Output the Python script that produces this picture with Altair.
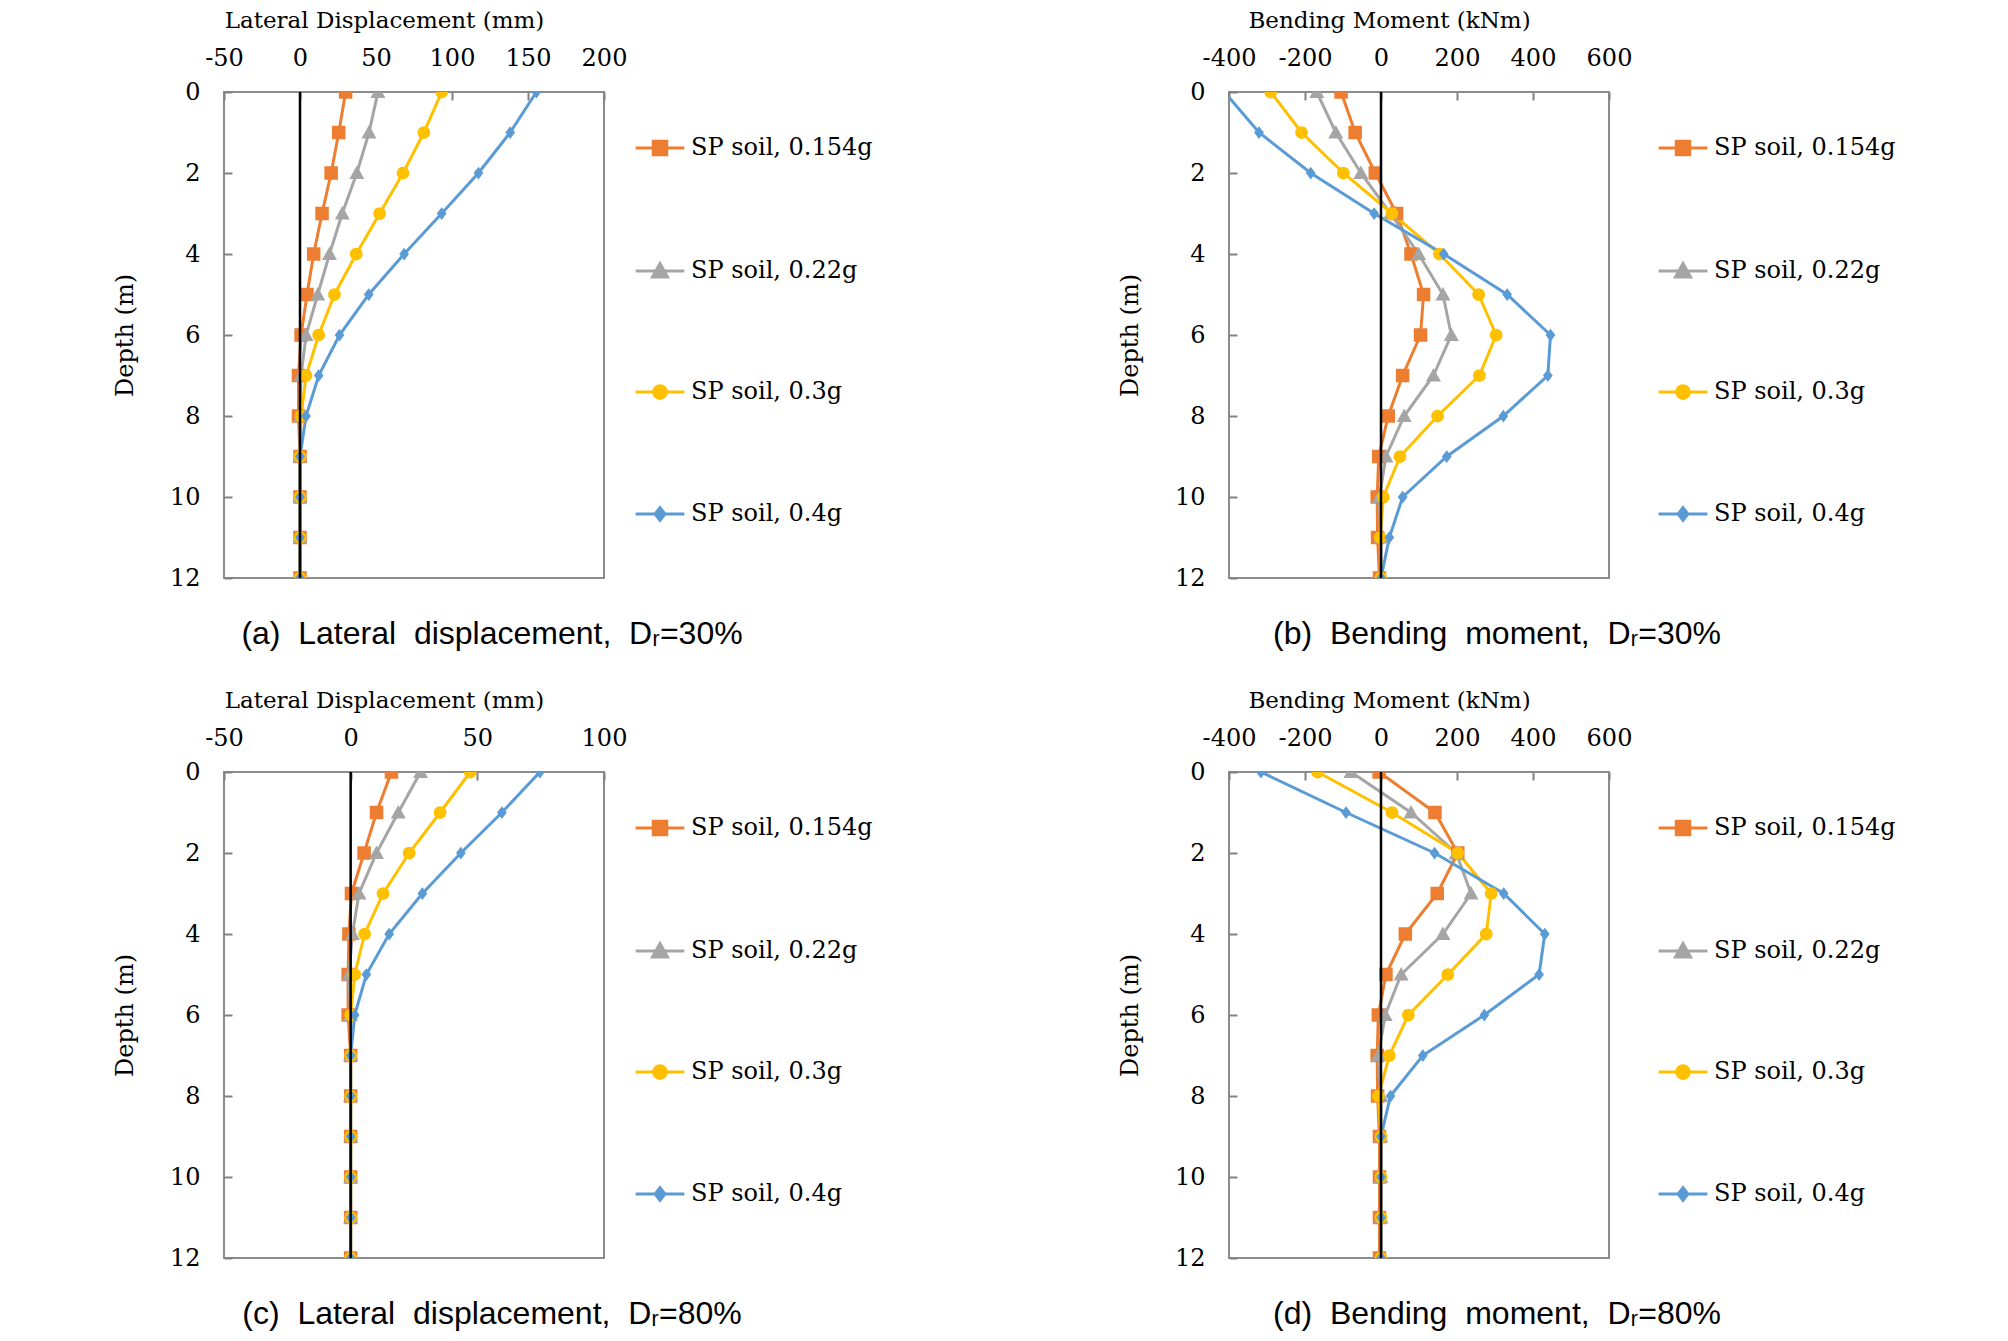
import altair as alt
import pandas as pd

depth = list(range(13))
series_names = ["SP soil, 0.154g", "SP soil, 0.22g", "SP soil, 0.3g", "SP soil, 0.4g"]
colors = ["#ED7D31", "#A5A5A5", "#FFC000", "#5B9BD5"]

# (a) Lateral displacement, Dr=30%
a_0154 = [30, 25.5, 20.5, 14.5, 9, 4.6, 0.7, -1, -1, 0, 0, 0, 0]
a_022 = [51.3, 45.4, 37.4, 27.8, 19.4, 11.7, 4, 0.7, 0, 0, 0, 0, 0]
a_03 = [93.2, 81.5, 67.8, 52.4, 37, 22.7, 12.3, 4, 0.7, 0, 0, 0, 0]
a_04 = [155.5, 138.3, 117.4, 93.2, 68.5, 45.2, 26, 12.3, 4, 0, 0, 0, 0]

# (b) Bending moment, Dr=30%
b_0154 = [-105, -68, -15, 41, 79, 112, 104, 57, 19, -6, -10, -9, -4]
b_022 = [-169, -119, -53, 25, 99, 163, 185, 138, 61, 13, -4, 0, 0]
b_03 = [-290, -209, -99, 29, 154, 257, 303, 259, 149, 50, 6, -2, 0]
b_04 = [-412, -321, -185, -18, 165, 332, 446, 439, 322, 173, 57, 22, 0]

# (c) Lateral displacement, Dr=80%
c_0154 = [16.1, 10.2, 5.3, 0.3, -0.7, -1, -1, 0, 0, 0, 0, 0, 0]
c_022 = [27.6, 18.8, 10.2, 3.3, 0.7, -0.7, 0, 0, 0, 0, 0, 0, 0]
c_03 = [47.2, 35.3, 23.1, 12.8, 5.5, 1.6, 0, 0, 0, 0, 0, 0, 0]
c_04 = [74.7, 59.7, 43.5, 28.3, 15.2, 6.2, 1.6, 0, 0, 0, 0, 0, 0]

# (d) Bending moment, Dr=80%
d_0154 = [-5, 142, 202, 148, 64, 13, -7, -10, -9, -4, -4, -4, -4]
d_022 = [-79, 79, 198, 237, 163, 53, 11, -7, 0, 0, 0, 0, 0]
d_03 = [-167, 29, 202, 290, 277, 176, 72, 22, -7, 0, 0, 0, 0]
d_04 = [-316, -92, 141, 323, 431, 416, 272, 110, 25, 0, 0, 0, 0]

disp_ticks_30 = [-50, 0, 50, 100, 150, 200]
disp_ticks_80 = [-50, 0, 50, 100]
moment_ticks = [-400, -200, 0, 200, 400, 600]
depth_ticks = [0, 2, 4, 6, 8, 10, 12]

# marker shapes (the horizontal segment only shows in the legend, where symbols are stroked)
shape_paths = [
    "M-3.25,0H3.25M-0.9,-0.9H0.9V0.9H-0.9Z",
    "M-3.25,0H3.25M0,-1L1,0.8H-1Z",
    "M-3.25,0H3.25M0.85,0A0.85,0.85,0,1,1,-0.85,0A0.85,0.85,0,1,1,0.85,0Z",
    "M-3.25,0H3.25M0,-0.85L0.65,0L0,0.85L-0.65,0Z",
]

SERIF = "DejaVu Serif"
W, H = 380, 486
NB = "\u00a0"


def make_panel(values_list, xdom, xvals, xtitle, caption, legend_x):
    rows = []
    for name, vals in zip(series_names, values_list):
        for d, v in zip(depth, vals):
            rows.append({"series": name, "depth": d, "value": v})
    df = pd.DataFrame(rows)

    xscale = alt.Scale(domain=xdom, nice=False, zero=False)
    yscale = alt.Scale(domain=[0, 12], reverse=True, nice=False, zero=False)

    leg = alt.Legend(
        title=None, orient="none", legendX=legend_x, legendY=44, padding=0,
        labelFont=SERIF, labelFontSize=24, labelColor="black", labelOffset=19,
        symbolSize=225, symbolStrokeWidth=3, rowPadding=96, labelLimit=400,
    )

    label_axis_x = alt.Axis(
        orient="top", values=xvals, title=xtitle, ticks=False, domain=False, grid=False,
        labelPadding=22, titlePadding=14, titleX=160, labelFont=SERIF, labelFontSize=24,
        titleFont=SERIF, titleFontSize=23, titleFontWeight="normal",
        labelColor="black", titleColor="black", labelFlush=False,
        labelExpr="datum.value < 0 ? '-' + abs(datum.value) : '' + datum.value",
    )
    label_axis_y = alt.Axis(
        orient="left", values=depth_ticks, title="Depth (m)", ticks=False, domain=False, grid=False,
        labelPadding=24, titlePadding=32, labelFont=SERIF, labelFontSize=24,
        titleFont=SERIF, titleFontSize=24, titleFontWeight="normal",
        labelColor="black", titleColor="black", labelFlush=False,
    )
    tick_axis_x = alt.Axis(
        orient="top", values=xvals, title=None, labels=False, domain=False, grid=False,
        ticks=True, tickSize=8, offset=-8, tickColor="#808080", tickWidth=2,
    )
    tick_axis_y = alt.Axis(
        orient="left", values=depth_ticks, title=None, labels=False, domain=False, grid=False,
        ticks=True, tickSize=8, offset=-8, tickColor="#808080", tickWidth=2,
    )

    base = alt.Chart(df)
    lines = base.mark_line(strokeWidth=3, clip=True).encode(
        x=alt.X("value:Q", scale=xscale, axis=label_axis_x),
        y=alt.Y("depth:Q", scale=yscale, axis=label_axis_y),
        stroke=alt.Stroke("series:N", scale=alt.Scale(domain=series_names, range=colors), legend=leg),
        order=alt.Order("depth:Q"),
    )
    points = base.mark_point(filled=True, size=225, opacity=1, clip=True).encode(
        x=alt.X("value:Q", scale=xscale, axis=tick_axis_x),
        y=alt.Y("depth:Q", scale=yscale, axis=tick_axis_y),
        fill=alt.Fill("series:N", scale=alt.Scale(domain=series_names, range=colors), legend=leg),
        shape=alt.Shape("series:N", scale=alt.Scale(domain=series_names, range=shape_paths), legend=leg),
    )
    zero = alt.Chart(pd.DataFrame({"value": [0]})).mark_rule(color="black", strokeWidth=2.5).encode(
        x=alt.X("value:Q", scale=xscale, axis=None)
    )
    return (
        alt.layer(lines, points, zero)
        .resolve_axis(x="independent", y="independent")
        .properties(
            width=W, height=H,
            title=alt.TitleParams(
                caption, orient="bottom", font="Liberation Sans", fontSize=32,
                fontWeight="normal", color="black", offset=29, anchor="middle",
                frame="group", dx=78,
            ),
        )
    )


def cap(letter, what, pct):
    return f"({letter}){NB} {what.replace(' ', NB + ' ')},{NB} D\u1d63={pct}%"


pa = make_panel([a_0154, a_022, a_03, a_04], [-50, 200], disp_ticks_30,
                "Lateral Displacement (mm)", cap("a", "Lateral displacement", 30), 424)
pb = make_panel([b_0154, b_022, b_03, b_04], [-400, 600], moment_ticks,
                "Bending Moment (kNm)", cap("b", "Bending moment", 30), 442)
pc = make_panel([c_0154, c_022, c_03, c_04], [-50, 100], disp_ticks_80,
                "Lateral Displacement (mm)", cap("c", "Lateral displacement", 80), 424)
pd_ = make_panel([d_0154, d_022, d_03, d_04], [-400, 600], moment_ticks,
                 "Bending Moment (kNm)", cap("d", "Bending moment", 80), 442)

indep = dict(stroke="independent", fill="independent", shape="independent")
row1 = alt.hconcat(pa, pb, spacing=243).resolve_scale(**indep).resolve_legend(**indep)
row2 = alt.hconcat(pc, pd_, spacing=243).resolve_scale(**indep).resolve_legend(**indep)
chart = (
    alt.vconcat(row1, row2, spacing=37)
    .resolve_scale(**indep)
    .resolve_legend(**indep)
    .properties(padding={"left": 104, "top": 0, "right": 5, "bottom": 0}, background="white")
    .configure_view(stroke="#8c8c8c", strokeWidth=2)
)

chart.save("out.html", embed_options={"renderer": "svg", "actions": False})
